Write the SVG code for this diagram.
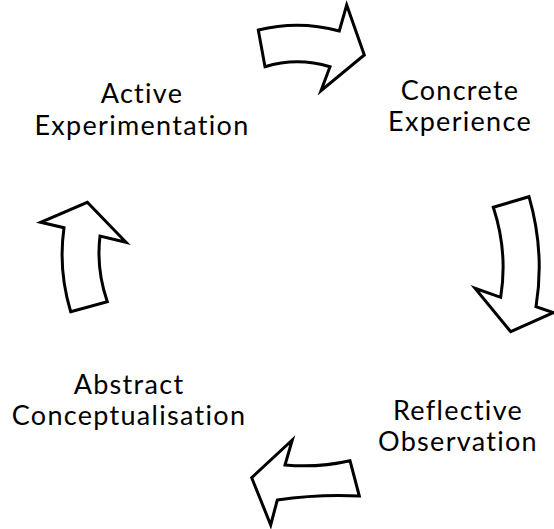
<svg xmlns="http://www.w3.org/2000/svg" width="554" height="529" viewBox="0 0 554 529">
<style>
.lbl{font-family:Lato,"Open Sans","Liberation Sans",sans-serif;font-size:27px;letter-spacing:1.3px;fill:#000;text-anchor:middle}
.arr{fill:#fff;stroke:#000;stroke-width:3;stroke-linejoin:miter}
</style>
<rect width="554" height="529" fill="#fff"/>
<g id="connectors">
<path id="arrow-top" class="arr" d="M258.3,30 Q299,20 339.3,31 L346.7,5 L364.3,55 L321,90.7 L330,66.7 Q297,57 265,66.7 Z"/>
<path id="arrow-right" class="arr" d="M493.3,207.3 L529,196.7 Q545,252 536,306.7 L553.3,312.7 L510.7,331.7 L475,288.3 L500.7,297.3 Q508,252 493.3,207.3 Z"/>
<path id="arrow-bottom" class="arr" d="M350,460.7 L359.3,496 Q318,494 277.3,500 L270.7,525 L251.7,477.7 L292.3,440 L285,465 Q318,468 350,460.7 Z"/>
<path id="arrow-left" class="arr" d="M70.7,311.7 L107.3,301.7 Q96,269 100,236 L126,242.3 L87.3,202.3 L40.7,222.3 L64,227.7 Q58,270 70.7,311.7 Z"/>
</g>
<g id="node-ae"><text class="lbl" x="142" y="103">Active</text><text class="lbl" x="142" y="135">Experimentation</text></g>
<g id="node-ce"><text class="lbl" x="460" y="100">Concrete</text><text class="lbl" x="460" y="131">Experience</text></g>
<g id="node-ro"><text class="lbl" x="458" y="420">Reflective</text><text class="lbl" x="458" y="451">Observation</text></g>
<g id="node-ac"><text class="lbl" x="129" y="394">Abstract</text><text class="lbl" x="129" y="425">Conceptualisation</text></g>
</svg>
